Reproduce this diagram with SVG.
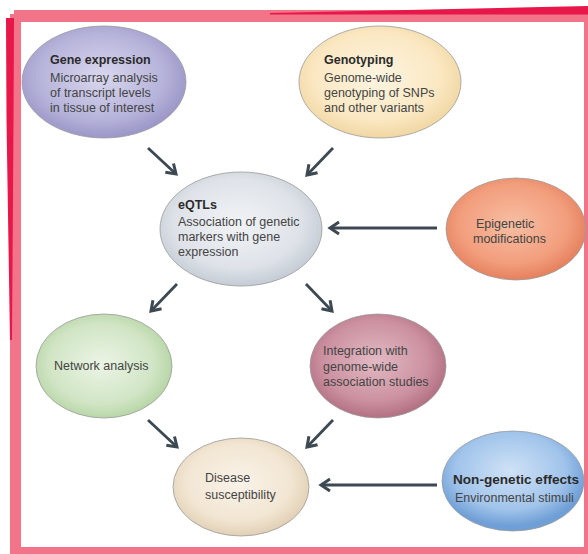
<svg xmlns="http://www.w3.org/2000/svg" width="588" height="554" viewBox="0 0 588 554">
<style>
.lbl{font-family:"Liberation Sans","Open Sans",Arial,sans-serif;font-size:12.5px;fill:#444}
.ttl{font-family:"Liberation Sans","Open Sans",Arial,sans-serif;font-size:12.5px;font-weight:bold;fill:#2b2b2b}
.node ellipse{stroke:#9a9a9a;stroke-width:0.8}
.conn line{stroke:#3c4852;stroke-width:2.8;fill:none;marker-end:url(#ah)}
</style>
<defs>
<marker id="ah" markerUnits="userSpaceOnUse" markerWidth="20" markerHeight="20" viewBox="-12 -10 16 20" refX="0" refY="0" orient="auto">
<path d="M-9,-6 L0,0 L-9,6" fill="none" stroke="#3c4852" stroke-width="3" stroke-linejoin="miter"/>
</marker>
<radialGradient id="gPurple" cx="48%" cy="45%" r="55%"><stop offset="0" stop-color="#d9d7ee"/><stop offset="0.7" stop-color="#b6b3da"/><stop offset="1" stop-color="#9a96c7"/></radialGradient>
<radialGradient id="gYellow" cx="48%" cy="45%" r="55%"><stop offset="0" stop-color="#fdf4e0"/><stop offset="0.7" stop-color="#fbe8c3"/><stop offset="1" stop-color="#f0d7a3"/></radialGradient>
<radialGradient id="gGrey" cx="48%" cy="45%" r="55%"><stop offset="0" stop-color="#f1f3f6"/><stop offset="0.7" stop-color="#dfe3e9"/><stop offset="1" stop-color="#c5ccd5"/></radialGradient>
<radialGradient id="gOrange" cx="48%" cy="45%" r="55%"><stop offset="0" stop-color="#f8bea2"/><stop offset="0.7" stop-color="#f29e7d"/><stop offset="1" stop-color="#e5805d"/></radialGradient>
<radialGradient id="gGreen" cx="48%" cy="48%" r="55%"><stop offset="0" stop-color="#ebf4e5"/><stop offset="0.7" stop-color="#d1e5c5"/><stop offset="1" stop-color="#b3d3a2"/></radialGradient>
<radialGradient id="gMauve" cx="48%" cy="45%" r="55%"><stop offset="0" stop-color="#e2bac4"/><stop offset="0.7" stop-color="#cc91a1"/><stop offset="1" stop-color="#b27082"/></radialGradient>
<radialGradient id="gBeige" cx="48%" cy="45%" r="55%"><stop offset="0" stop-color="#faf3e9"/><stop offset="0.7" stop-color="#f2e6d3"/><stop offset="1" stop-color="#e2d0b5"/></radialGradient>
<radialGradient id="gBlue" cx="48%" cy="40%" r="55%"><stop offset="0" stop-color="#cfe2f6"/><stop offset="0.7" stop-color="#a1c4eb"/><stop offset="1" stop-color="#6f9fd6"/></radialGradient>
</defs>
<g id="frame">
<rect x="0" y="0" width="588" height="554" fill="#ffffff"/>
<rect x="10" y="14" width="11" height="540" fill="#f27489"/>
<rect x="14" y="10" width="574" height="12" fill="#f27489"/>
<rect x="584" y="10" width="4" height="544" fill="#f27489"/>
<rect x="10" y="547" width="578" height="7" fill="#f27489"/>
<polygon points="270,13 588,6 588,14.5 270,14.5" fill="#e8174a"/>
<polygon points="6,18 14,18 13.5,120 12,340 10,340 6.5,120" fill="#e8174a"/>
</g>
<g id="connectors" class="conn">
<line x1="148" y1="148" x2="176" y2="174"/>
<line x1="333" y1="148" x2="307" y2="175"/>
<line x1="437" y1="228" x2="330" y2="228"/>
<line x1="177" y1="284" x2="151" y2="311"/>
<line x1="306" y1="284" x2="332" y2="311"/>
<line x1="148" y1="420" x2="177" y2="447"/>
<line x1="333" y1="420" x2="307" y2="447"/>
<line x1="437" y1="485" x2="321" y2="485"/>
</g>
<g id="gene-expression" class="node">
<ellipse cx="104" cy="82" rx="82" ry="56" fill="url(#gPurple)"/>
<text class="ttl" x="50" y="64">Gene expression</text>
<text class="lbl" x="50" y="82">Microarray analysis</text>
<text class="lbl" x="50" y="97">of transcript levels</text>
<text class="lbl" x="50" y="112">in tissue of interest</text>
</g>
<g id="genotyping" class="node">
<ellipse cx="380" cy="82" rx="81" ry="56" fill="url(#gYellow)"/>
<text class="ttl" x="324" y="64">Genotyping</text>
<text class="lbl" x="324" y="82">Genome-wide</text>
<text class="lbl" x="324" y="97">genotyping of SNPs</text>
<text class="lbl" x="324" y="112">and other variants</text>
</g>
<g id="eqtls" class="node">
<ellipse cx="241" cy="229" rx="81" ry="57" fill="url(#gGrey)"/>
<text class="ttl" x="178" y="209">eQTLs</text>
<text class="lbl" x="178" y="226">Association of genetic</text>
<text class="lbl" x="178" y="241">markers with gene</text>
<text class="lbl" x="178" y="256">expression</text>
</g>
<g id="epigenetic" class="node">
<ellipse cx="516" cy="229" rx="70" ry="51" fill="url(#gOrange)"/>
<text class="lbl" x="476" y="228">Epigenetic</text>
<text class="lbl" x="473" y="243">modifications</text>
</g>
<g id="network-analysis" class="node">
<ellipse cx="104" cy="366" rx="68" ry="52" fill="url(#gGreen)"/>
<text class="lbl" x="54" y="370">Network analysis</text>
</g>
<g id="integration" class="node">
<ellipse cx="378" cy="366" rx="68" ry="52" fill="url(#gMauve)"/>
<text class="lbl" x="323" y="355">Integration with</text>
<text class="lbl" x="323" y="371">genome-wide</text>
<text class="lbl" x="323" y="386">association studies</text>
</g>
<g id="disease" class="node">
<ellipse cx="241" cy="487" rx="68" ry="49" fill="url(#gBeige)"/>
<text class="lbl" x="205" y="482">Disease</text>
<text class="lbl" x="205" y="499">susceptibility</text>
</g>
<g id="non-genetic" class="node">
<ellipse cx="513" cy="481" rx="71" ry="50" fill="url(#gBlue)"/>
<text class="ttl" x="453" y="484" style="font-size:13.6px">Non-genetic effects</text>
<text class="lbl" x="455" y="502">Environmental stimuli</text>
</g>
</svg>
